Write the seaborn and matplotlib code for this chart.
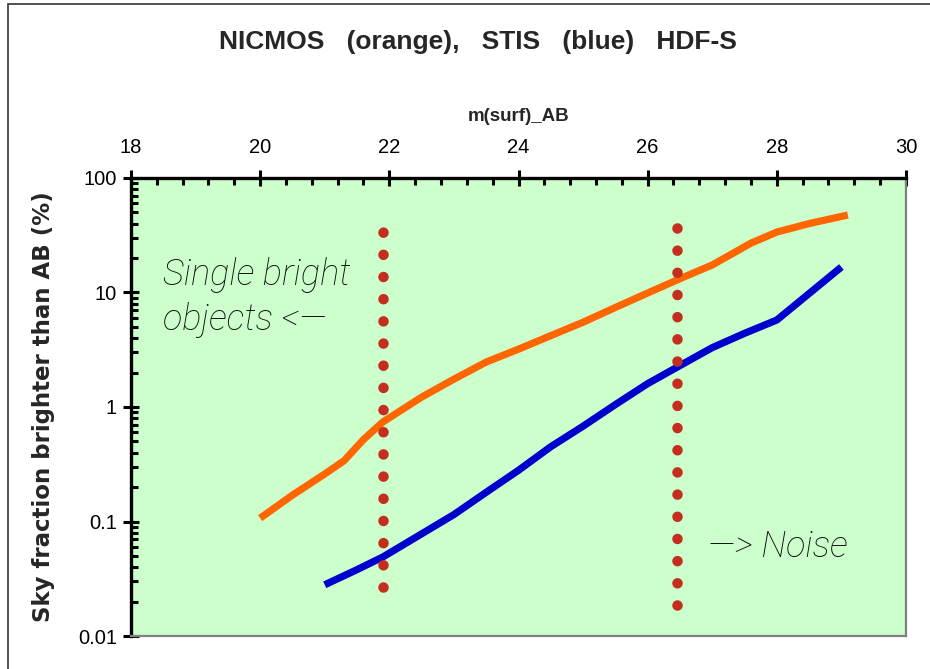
import numpy as np
import pandas as pd
import seaborn as sns
import matplotlib.pyplot as plt
from matplotlib.patches import Rectangle
from matplotlib.ticker import FixedLocator, NullFormatter, LogLocator

# Sky fraction brighter than a given surface brightness
nicmos_mag = [20.0, 20.5, 21.0, 21.3, 21.6, 21.9, 22.5, 23.0, 23.5, 24.0,
              24.5, 25.0, 25.5, 26.0, 26.5, 27.0, 27.6, 28.0, 28.5, 29.1]
nicmos_frac = [0.107, 0.17, 0.26, 0.34, 0.52, 0.74, 1.22, 1.75, 2.47, 3.2,
               4.2, 5.5, 7.4, 9.9, 13.2, 17.4, 27.0, 33.7, 40.0, 47.5]

stis_mag = [21.0, 21.5, 21.9, 22.5, 23.0, 23.5, 24.0, 24.5, 25.0, 25.5,
            26.0, 26.5, 27.0, 27.5, 28.0, 28.5, 29.0]
stis_frac = [0.028, 0.038, 0.049, 0.078, 0.115, 0.18, 0.28, 0.45, 0.68, 1.05,
             1.6, 2.3, 3.3, 4.4, 5.75, 9.8, 16.7]

# dotted markers: bright-object limit and noise limit
limit_mag = [21.9, 26.45]
limit_low = [0.027, 0.0186]
limit_high = [35.0, 47.5]

x_ticks = [18, 20, 22, 24, 26, 28, 30]
y_ticks = [0.01, 0.1, 1, 10, 100]
y_ticklabels = ['0.01', '0.1', '1', '10', '100']

sns.set_style("ticks")
plt.rcParams['font.family'] = ['Liberation Sans', 'DejaVu Sans']

fig = plt.figure(figsize=(9.3, 6.69), dpi=100)
ax = fig.add_axes([131 / 930, 1 - 636 / 669, 775 / 930, 458 / 669])
ax.set_facecolor('#ccffcc')

df_n = pd.DataFrame({'mag': nicmos_mag, 'frac': nicmos_frac})
df_s = pd.DataFrame({'mag': stis_mag, 'frac': stis_frac})
sns.lineplot(data=df_n, x='mag', y='frac', color='#ff6600', lw=5.2,
             estimator=None, sort=False, solid_capstyle='butt', ax=ax)
sns.lineplot(data=df_s, x='mag', y='frac', color='#0000cc', lw=5.2,
             estimator=None, sort=False, solid_capstyle='butt', ax=ax)

for m, lo, hi in zip(limit_mag, limit_low, limit_high):
    sns.lineplot(x=[m, m], y=[lo, hi], color='#c42e1e', lw=7.6,
                 estimator=None, sort=False,
                 linestyle=(0, (0.001, 2.1)), dash_capstyle='round', ax=ax)

ax.set_yscale('log')
ax.set_xlim(18, 30)
ax.set_ylim(0.01, 100)

ax.xaxis.tick_top()
ax.xaxis.set_label_position('top')
ax.set_xticks(x_ticks)
ax.set_xticklabels([str(t) for t in x_ticks])
ax.xaxis.set_minor_locator(FixedLocator(np.arange(18, 30.01, 0.4)))
ax.set_yticks(y_ticks)
ax.set_yticklabels(y_ticklabels)
ax.yaxis.set_minor_locator(LogLocator(base=10, subs=np.arange(2, 10)))
ax.yaxis.set_minor_formatter(NullFormatter())

ax.tick_params(axis='both', which='major', direction='inout', length=12,
               width=2.2, color='black', labelsize=14.5, labelcolor='black')
ax.tick_params(axis='x', which='major', pad=9)
ax.tick_params(axis='y', which='major', pad=4)
ax.tick_params(axis='both', which='minor', direction='in', length=5,
               width=2.2, color='black')
ax.tick_params(axis='y', which='both', right=False)
ax.tick_params(axis='x', which='both', bottom=False)

for side in ['top', 'left']:
    ax.spines[side].set_color('black')
    ax.spines[side].set_linewidth(2.4)
for side in ['bottom', 'right']:
    ax.spines[side].set_visible(True)
    ax.spines[side].set_color('#808080')
    ax.spines[side].set_linewidth(1.6)

ax.set_xlabel('m(surf)_AB', fontsize=13.5, fontweight='bold', labelpad=12)
ax.set_ylabel('')

fig.text(44 / 930, 1 - 407 / 669, 'Sky fraction brighter than AB (%)',
         rotation=90, ha='center', va='center', fontsize=16.5,
         fontweight='bold', family=['DejaVu Sans'])
fig.text(478 / 930, 1 - 42 / 669, 'NICMOS   (orange),   STIS   (blue)   HDF-S',
         ha='center', va='center', fontsize=19, fontweight='bold')

note_kw = dict(transform=ax.transAxes, fontsize=26, style='italic',
               fontweight='light', color='#111111', va='baseline',
               family=['Roboto', 'DejaVu Sans'])
ax.text(0.041, 0.766, 'Single bright', **note_kw)
ax.text(0.041, 0.668, 'objects <\u2014', **note_kw)
ax.text(0.745, 0.172, '\u2014> Noise', **note_kw)

# outer frame around the chart area
fig.patches.append(Rectangle((8 / 930, -0.1), 1.1, (669 - 4) / 669 + 0.1,
                             transform=fig.transFigure, fill=False,
                             edgecolor='#333333', lw=1.2))

fig.savefig('out.png', dpi=100)
